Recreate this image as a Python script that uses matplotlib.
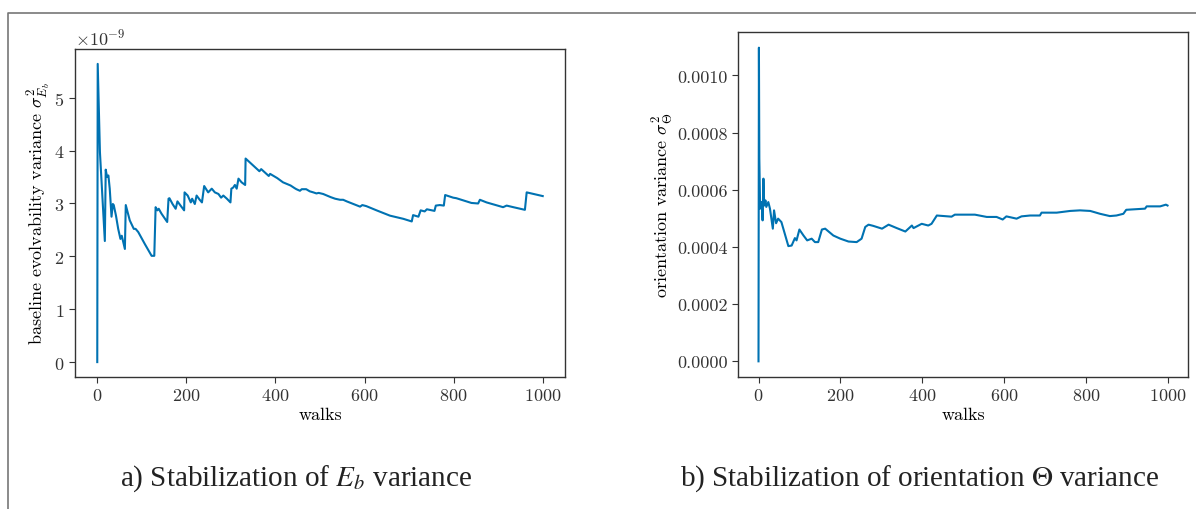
import os
import numpy as np
import matplotlib
matplotlib.use("Agg")
import matplotlib.pyplot as plt
from matplotlib import font_manager
from matplotlib.lines import Line2D

# values (walk index, variance)
eb_walks = [0, 1, 6, 17, 19, 22, 25, 28, 32, 35, 37, 42, 47, 52, 55, 62, 64, 73, 82, 86,
            92, 107, 122, 128, 131, 135, 138, 144, 157, 160, 162, 169, 176, 180, 187, 195,
            196, 203, 210, 213, 219, 223, 230, 235, 240, 249, 257, 264, 272, 278, 283, 291,
            299, 301, 305, 309, 313, 317, 324, 332, 333, 364, 368, 385, 388, 404, 417, 434,
            443, 447, 455, 459, 469, 477, 485, 492, 497, 507, 524, 534, 545, 552, 560, 590,
            595, 604, 627, 657, 687, 706, 709, 721, 726, 735, 740, 757, 760, 769, 778, 781,
            799, 806, 840, 855, 859, 874, 911, 919, 934, 960, 964, 1000]
eb_var = [0.0, 5.64, 3.97, 2.29, 3.64, 3.50, 3.53, 3.28, 2.75, 2.99, 2.97, 2.77, 2.52, 2.33,
          2.39, 2.14, 2.97, 2.68, 2.52, 2.52, 2.46, 2.23, 2.01, 2.01, 2.93, 2.87, 2.90, 2.81,
          2.65, 3.09, 3.10, 2.99, 2.90, 3.04, 2.96, 2.87, 3.21, 3.15, 3.02, 3.09, 2.99, 3.15,
          3.07, 3.02, 3.33, 3.21, 3.28, 3.21, 3.18, 3.11, 3.15, 3.09, 3.02, 3.28, 3.30, 3.35,
          3.28, 3.47, 3.40, 3.35, 3.85, 3.61, 3.65, 3.52, 3.56, 3.48, 3.40, 3.34, 3.29, 3.27,
          3.24, 3.27, 3.27, 3.23, 3.21, 3.19, 3.20, 3.18, 3.12, 3.09, 3.07, 3.07, 3.04, 2.94,
          2.97, 2.95, 2.87, 2.77, 2.71, 2.66, 2.78, 2.75, 2.87, 2.85, 2.89, 2.86, 2.96, 2.97,
          2.96, 3.16, 3.11, 3.10, 3.01, 3.00, 3.07, 3.02, 2.93, 2.96, 2.93, 2.88, 3.21, 3.14]
eb_var = [v * 1e-9 for v in eb_var]

th_walks = [0, 1, 2, 4, 8, 10, 12, 14, 17, 19, 24, 28, 35, 38, 43, 48, 56, 73, 81, 89, 93,
            100, 110, 119, 130, 138, 146, 155, 163, 183, 200, 220, 240, 252, 261, 269, 280,
            302, 318, 338, 359, 375, 379, 399, 415, 423, 436, 472, 480, 501, 529, 558, 582,
            597, 606, 631, 643, 664, 688, 692, 729, 762, 786, 811, 835, 859, 875, 892, 899,
            945, 949, 982, 996, 1000]
th_var = [0.0, 1.097, 0.71, 0.534, 0.557, 0.493, 0.639, 0.545, 0.563, 0.540, 0.557, 0.534,
          0.464, 0.528, 0.483, 0.499, 0.487, 0.403, 0.405, 0.431, 0.423, 0.461, 0.440, 0.423,
          0.429, 0.417, 0.417, 0.461, 0.464, 0.440, 0.429, 0.419, 0.417, 0.429, 0.470, 0.478,
          0.474, 0.464, 0.478, 0.466, 0.454, 0.475, 0.466, 0.481, 0.475, 0.481, 0.510, 0.506,
          0.513, 0.513, 0.513, 0.505, 0.505, 0.496, 0.507, 0.499, 0.507, 0.510, 0.510, 0.520,
          0.520, 0.526, 0.528, 0.526, 0.516, 0.508, 0.510, 0.516, 0.530, 0.534, 0.542, 0.542,
          0.548, 0.545]
th_var = [v * 1e-3 for v in th_var]

caption_a = "a) Stabilization of $E_b$ variance"
caption_b = "b) Stabilization of orientation $\\Theta$ variance"

# Computer Modern ships with matplotlib; register it explicitly
cm_path = os.path.join(matplotlib.get_data_path(), 'fonts', 'ttf', 'cmr10.ttf')
font_manager.fontManager.addfont(cm_path)
cm_name = font_manager.FontProperties(fname=cm_path).get_name()

plt.rcParams['font.family'] = [cm_name, 'DejaVu Serif']
plt.rcParams['mathtext.fontset'] = 'cm'
plt.rcParams['axes.formatter.use_mathtext'] = True
plt.rcParams['axes.unicode_minus'] = False

blue = '#0072b2'
spine_col = '#333333'

fig = plt.figure(figsize=(11.96, 5.10), dpi=100)
ax1 = fig.add_axes([0.0627, 0.2588, 0.4097, 0.6432])
ax2 = fig.add_axes([0.6171, 0.2588, 0.3762, 0.6765])

ax1.plot(eb_walks, eb_var, color=blue, lw=1.5)
ax2.plot(th_walks, th_var, color=blue, lw=1.5)

ax1.set_ylabel("baseline evolvability variance $\\sigma^2_{E_b}$", fontsize=13, labelpad=1)
ax2.set_ylabel("orientation variance $\\sigma^2_{\\Theta}$", fontsize=13, labelpad=1)

for ax in (ax1, ax2):
    ax.set_xlabel("walks", fontsize=13, labelpad=2)
    ax.set_xticks([0, 200, 400, 600, 800, 1000])
    ax.tick_params(labelsize=13, colors=spine_col, length=4)
    for s in ax.spines.values():
        s.set_color(spine_col)
        s.set_linewidth(1.0)

ax1.ticklabel_format(axis='y', style='sci', scilimits=(0, 0))
ax1.yaxis.get_offset_text().set_fontsize(13)
ax1.yaxis.get_offset_text().set_color(spine_col)
ax2.set_yticks([0, 0.0002, 0.0004, 0.0006, 0.0008, 0.0010])
ax2.set_yticklabels(["0.0000", "0.0002", "0.0004", "0.0006", "0.0008", "0.0010"])

fig.text(0.2475, 0.062, caption_a, ha='center', va='center', fontsize=21,
         family='Liberation Serif', math_fontfamily='stix', color='#222222')
fig.text(0.769, 0.062, caption_b, ha='center', va='center', fontsize=21,
         family='Liberation Serif', math_fontfamily='stix', color='#222222')

# frame on top and left edges
fx = 8 / 1196
fy = 1 - 14 / 510
fig.add_artist(Line2D([fx, fx, 1], [0, fy, fy], transform=fig.transFigure,
                      color='#777777', lw=1.2))

fig.savefig("out.png", dpi=100)
